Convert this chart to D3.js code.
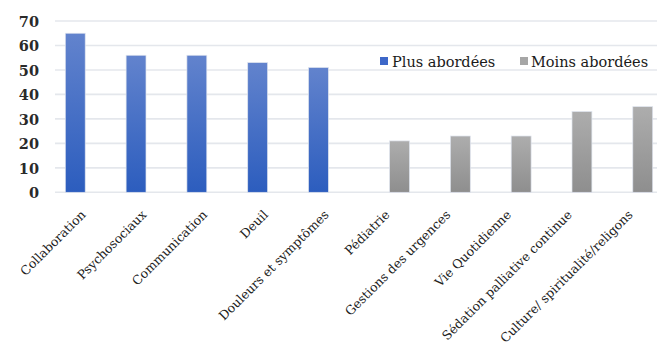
<!DOCTYPE html>
<html>
<head>
<meta charset="utf-8">
<script src="https://cdn.jsdelivr.net/npm/d3@7/dist/d3.min.js"></script>
<style>
  html, body { margin: 0; padding: 0; background: #fff; }
  svg { display: block; }
</style>
</head>
<body>
<svg id="chart" width="657" height="346"></svg>
<script>
// Topics and how often they were addressed
const categories = [
  "Collaboration", "Psychosociaux", "Communication", "Deuil", "Douleurs et symptômes",
  "Pédiatrie", "Gestions des urgences", "Vie Quotidienne", "Sédation palliative continue",
  "Culture/ spiritualité/religons"
];
const plusValues  = [65, 56, 56, 53, 51, null, null, null, null, null];
const moinsValues = [null, null, null, null, null, 21, 23, 23, 33, 35];
const seriesNames = ["Plus abordées", "Moins abordées"];
const yTicks = [0, 10, 20, 30, 40, 50, 60, 70];

const FONT = "DejaVu Serif";

const svg = d3.select("#chart");
const margin = { left: 55, top: 21, bottom: 192.3 };
const plotRight = 663;

const x = d3.scaleBand().domain(categories).range([margin.left, plotRight]).paddingInner(0).paddingOuter(0);
const xSeries = d3.scaleBand().domain(seriesNames).range([0, 41]).padding(0.02);
const y = d3.scaleLinear().domain([0, 70]).range([margin.bottom, margin.top]);

// Gradients for the two series
const defs = svg.append("defs");
function grad(id, top, bottom) {
  const g = defs.append("linearGradient").attr("id", id).attr("x1", 0).attr("y1", 0).attr("x2", 0).attr("y2", 1);
  g.append("stop").attr("offset", "0%").attr("stop-color", top);
  g.append("stop").attr("offset", "100%").attr("stop-color", bottom);
}
grad("gBlue", "#6283cd", "#2c5dbe");
grad("gGray", "#adadad", "#8e8e8e");

// Horizontal grid
svg.append("g")
  .selectAll("line").data(yTicks).join("line")
  .attr("x1", margin.left).attr("x2", plotRight)
  .attr("y1", d => y(d)).attr("y2", d => y(d))
  .attr("stroke", "#e4e7ec").attr("stroke-width", 1.6);

// Y axis labels
const yAxis = d3.axisLeft(y).tickValues(yTicks).tickSize(0).tickPadding(0);
const yg = svg.append("g").attr("transform", "translate(39,0)").call(yAxis);
yg.attr("font-family", FONT);
yg.select(".domain").remove();
yg.selectAll("text")
  .attr("font-size", 14.5).attr("font-weight", "bold").attr("fill", "#2a2a2a")
  .attr("dy", "0.36em");

// Bars
const offsetCenter = x.bandwidth() / 2 - 20.5;
function drawSeries(values, name, fill) {
  svg.append("g")
    .selectAll("rect")
    .data(categories.map((c, i) => ({ c, v: values[i] })).filter(d => d.v != null))
    .join("rect")
    .attr("x", d => x(d.c) + offsetCenter + xSeries(name))
    .attr("width", xSeries.bandwidth())
    .attr("y", d => y(d.v))
    .attr("height", d => y(0) - y(d.v))
    .attr("fill", fill)
    .attr("stroke", "#dfe4ee").attr("stroke-width", 0.7);
}
drawSeries(plusValues, seriesNames[0], "url(#gBlue)");
drawSeries(moinsValues, seriesNames[1], "url(#gGray)");

// Category labels, rotated
svg.append("g")
  .attr("font-family", FONT)
  .selectAll("text").data(categories).join("text")
  .attr("transform", d => `translate(${x(d) + x.bandwidth() / 2 + 1},215.5) rotate(-45)`)
  .attr("text-anchor", "end")
  .attr("font-size", 12.5)
  .attr("fill", "#222")
  .text(d => d);

// Legend
const legend = svg.append("g").attr("font-family", FONT).attr("font-size", 14.5);
const legendItems = [
  { name: seriesNames[0], color: "#3d67c8", x: 380, tx: 392 },
  { name: seriesNames[1], color: "#a6a6a6", x: 520, tx: 531 }
];
legendItems.forEach(it => {
  legend.append("rect").attr("x", it.x).attr("y", 57).attr("width", 8).attr("height", 8).attr("fill", it.color);
  legend.append("text").attr("x", it.tx).attr("y", 66.5).attr("fill", "#1a1a1a").text(it.name);
});
</script>
</body>
</html>
